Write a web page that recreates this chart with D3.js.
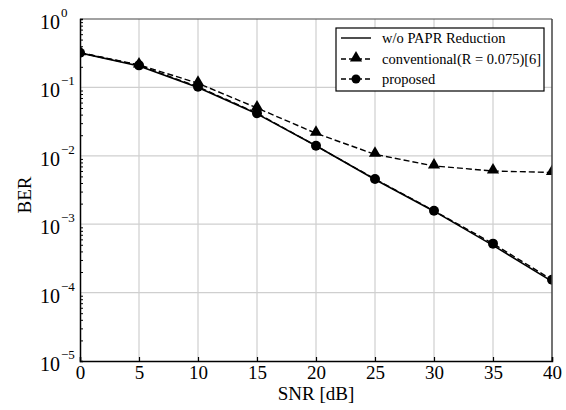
<!DOCTYPE html>
<html>
<head>
<meta charset="utf-8">
<script src="https://cdn.jsdelivr.net/npm/d3@7/dist/d3.min.js"></script>
<style>
  html, body { margin: 0; padding: 0; background: #fff; }
  svg { display: block; font-family: "Liberation Serif", "Times New Roman", serif; }
</style>
</head>
<body>
<svg id="chart" width="566" height="410"></svg>
<script>
// SNR points (dB)
const snr = [0, 5, 10, 15, 20, 25, 30, 35, 40];
// BER curves
const berNoReduction = [0.32, 0.205, 0.1, 0.041, 0.014, 0.0045, 0.00155, 0.00049, 0.000146];
const berConventional = [0.322, 0.213, 0.115, 0.05, 0.0213, 0.0105, 0.0071, 0.006, 0.0057];
const berProposed = [0.322, 0.21, 0.102, 0.042, 0.014, 0.00458, 0.00157, 0.00052, 0.000154];
// Axis ticks
const xTicks = [0, 5, 10, 15, 20, 25, 30, 35, 40];
const yExponents = [0, -1, -2, -3, -4, -5];
const legendLabels = ["w/o PAPR Reduction", "conventional(R = 0.075)[6]", "proposed"];

const svg = d3.select("#chart");
const L = 80, R = 552, T = 19, B = 361;

const x = d3.scaleLinear().domain([0, 40]).range([L, R]);
const y = d3.scaleLog().domain([1e-5, 1]).range([B, T]);

svg.append("defs").append("clipPath").attr("id", "plotClip")
  .append("rect").attr("x", L).attr("y", T).attr("width", R - L).attr("height", B - T);

// grid
const grid = svg.append("g").attr("stroke", "#cfcfcf").attr("stroke-width", 1.2);
xTicks.slice(1, -1).forEach(v => {
  grid.append("line").attr("x1", x(v)).attr("x2", x(v)).attr("y1", T).attr("y2", B);
});
yExponents.slice(1, -1).forEach(e => {
  grid.append("line").attr("x1", L).attr("x2", R).attr("y1", y(Math.pow(10, e))).attr("y2", y(Math.pow(10, e)));
});

// curves (clipped to the plot area)
const plot = svg.append("g").attr("clip-path", "url(#plotClip)");
const line = vals => d3.line().x((d, i) => x(snr[i])).y(d => y(d))(vals);
plot.append("path").attr("d", line(berNoReduction)).attr("fill", "none").attr("stroke", "#000").attr("stroke-width", 1.6);
plot.append("path").attr("d", line(berConventional)).attr("fill", "none").attr("stroke", "#000").attr("stroke-width", 1.4).attr("stroke-dasharray", "6,3");
plot.append("path").attr("d", line(berProposed)).attr("fill", "none").attr("stroke", "#000").attr("stroke-width", 1.4).attr("stroke-dasharray", "6,3");

const tri = d3.symbol().type(d3.symbolTriangle).size(64);
plot.append("g").selectAll("path").data(berConventional).join("path")
  .attr("d", tri).attr("transform", (d, i) => `translate(${x(snr[i])},${y(d) - 1})`).attr("fill", "#000");
plot.append("g").selectAll("circle").data(berProposed).join("circle")
  .attr("cx", (d, i) => x(snr[i])).attr("cy", d => y(d)).attr("r", 5).attr("fill", "#000");

// frame: top/right
svg.append("line").attr("x1", L).attr("x2", R).attr("y1", T).attr("y2", T).attr("stroke", "#444").attr("stroke-width", 1.2);
svg.append("line").attr("x1", R).attr("x2", R).attr("y1", T).attr("y2", B).attr("stroke", "#444").attr("stroke-width", 1.5);

// bottom axis with inward ticks
const xAxis = d3.axisBottom(x).tickValues(xTicks).tickSize(-4).tickFormat(d3.format("d")).tickPadding(4);
const gx = svg.append("g").attr("transform", `translate(0,${B})`).call(xAxis);
gx.select(".domain").attr("stroke", "#000").attr("stroke-width", 1.5);
gx.selectAll(".tick line").attr("stroke", "#000").attr("stroke-width", 1.2);
gx.selectAll(".tick text").attr("font-size", 19).attr("font-family", "Liberation Serif, Times New Roman, serif").attr("fill", "#000").attr("dy", "0.72em");

// left axis with minor ticks inside
const minorTicks = [];
for (let e = -5; e < 0; e++) for (let m = 2; m <= 9; m++) minorTicks.push(m * Math.pow(10, e));
const yAxis = d3.axisLeft(y).tickValues(minorTicks).tickSize(-3).tickFormat("");
const gy = svg.append("g").attr("transform", `translate(${L},0)`).call(yAxis);
gy.select(".domain").attr("stroke", "#000").attr("stroke-width", 1.5);
gy.selectAll(".tick line").attr("stroke", "#000").attr("stroke-width", 1);

// y tick labels: 10^e
yExponents.forEach(e => {
  const yy = y(Math.pow(10, e));
  const t = svg.append("text").attr("x", 40).attr("y", yy + 10).attr("font-size", 20).attr("fill", "#000");
  t.append("tspan").text("10");
  t.append("tspan").attr("dy", -12).attr("dx", 1).attr("font-size", 13).text(e === 0 ? "0" : "\u2212" + Math.abs(e));
});

// axis titles
svg.append("text").attr("x", (L + R) / 2).attr("y", 400).attr("text-anchor", "middle")
  .attr("font-size", 19).text("SNR [dB]");
svg.append("text").attr("transform", `translate(31,${(T + B) / 2 + 5}) rotate(-90)`).attr("text-anchor", "middle")
  .attr("font-size", 19).text("BER");

// legend
const lg = svg.append("g");
lg.append("rect").attr("x", 336).attr("y", 28).attr("width", 208).attr("height", 63)
  .attr("fill", "#fff").attr("stroke", "#000").attr("stroke-width", 1.2);
const rows = [38, 59, 79];
legendLabels.forEach((lab, i) => {
  const ly = rows[i];
  lg.append("line").attr("x1", 341).attr("x2", 371).attr("y1", ly).attr("y2", ly)
    .attr("stroke", "#000").attr("stroke-width", 1.4).attr("stroke-dasharray", i === 0 ? null : "5,3");
  if (i === 1) lg.append("path").attr("d", tri).attr("transform", `translate(356,${ly - 1})`).attr("fill", "#000");
  if (i === 2) lg.append("circle").attr("cx", 356).attr("cy", ly).attr("r", 4.5).attr("fill", "#000");
  lg.append("text").attr("x", 382).attr("y", ly + 5).attr("font-size", 14.5).attr("fill", "#000").text(lab);
});
</script>
</body>
</html>
